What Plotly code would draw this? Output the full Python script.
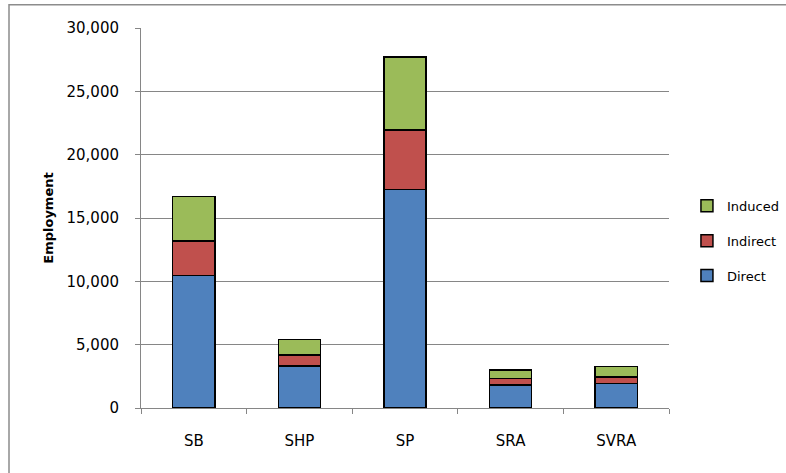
import plotly.graph_objects as go

# Employment impact by category, split into direct / indirect / induced jobs
categories = ["SB", "SHP", "SP", "SRA", "SVRA"]
direct = [10450, 3300, 17270, 1820, 1950]
indirect = [2730, 900, 4660, 510, 510]
induced = [3500, 1200, 5800, 690, 830]

series = [
    ("Direct", direct, "#4F81BD", 3),
    ("Indirect", indirect, "#C0504D", 2),
    ("Induced", induced, "#9BBB59", 1),
]

FONT = "DejaVu Sans"
GRID = "#868686"

fig = go.Figure()
for name, vals, color, rank in series:
    fig.add_trace(go.Bar(
        x=categories, y=vals, name=name, legendgroup=name, legendrank=rank,
        marker=dict(color=color, line=dict(color="#000000", width=1.5)),
    ))

fig.update_layout(
    barmode="stack",
    bargap=0.6,
    width=786, height=473,
    margin=dict(l=141, r=117, t=28, b=65, autoexpand=False),
    paper_bgcolor="white", plot_bgcolor="white",
    font=dict(family=FONT, color="#000000", size=14),
    legend=dict(
        traceorder="grouped", tracegroupgap=15,
        x=1.034, xanchor="left", y=0.44, yanchor="middle",
        font=dict(size=13), itemwidth=30,
    ),
    xaxis=dict(
        showline=True, linecolor=GRID, linewidth=1,
        ticks="outside", ticklen=5, tickcolor=GRID, tickson="boundaries",
        ticklabelstandoff=19, tickfont=dict(size=15),
    ),
    yaxis=dict(
        range=[0, 30000], dtick=5000, tickformat=",",
        showline=True, linecolor=GRID, linewidth=1,
        showgrid=True, gridcolor=GRID, gridwidth=1,
        ticks="outside", ticklen=5, tickcolor=GRID,
        ticklabelstandoff=13, tickfont=dict(size=15),
        title=dict(text="<b>Employment</b>", font=dict(size=13), standoff=9),
    ),
    shapes=[dict(
        type="rect", xref="paper", yref="paper",
        x0=-0.25, x1=1.3, y0=-0.4, y1=1.061,
        line=dict(color="#8C8C8C", width=1.5), layer="below",
    )],
)

fig.write_html("out.html")
